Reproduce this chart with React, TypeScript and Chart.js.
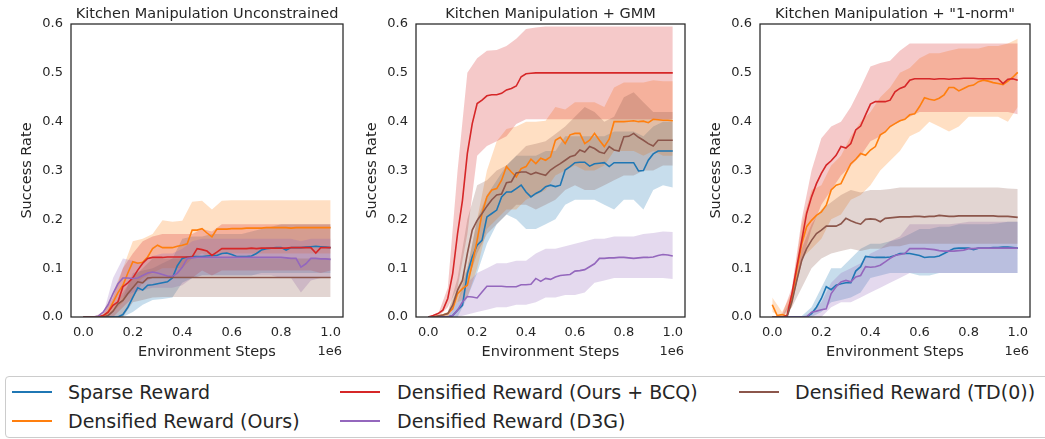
import React, { useEffect, useRef } from "react";
import { Chart, registerables } from "chart.js";

Chart.register(...registerables);

const MEAN_STEPS = [0, 0.02, 0.04, 0.06, 0.08, 0.1, 0.12, 0.14, 0.16, 0.18, 0.2, 0.22, 0.24, 0.26, 0.28, 0.3, 0.32, 0.34, 0.36, 0.38, 0.4, 0.42, 0.44, 0.46, 0.48, 0.5, 0.52, 0.54, 0.56, 0.58, 0.6, 0.62, 0.64, 0.66, 0.68, 0.7, 0.72, 0.74, 0.76, 0.78, 0.8, 0.82, 0.84, 0.86, 0.88, 0.9, 0.92, 0.94, 0.96, 0.98, 1.0];
const BAND_STEPS = [0, 0.04, 0.08, 0.12, 0.16, 0.2, 0.24, 0.28, 0.32, 0.36, 0.4, 0.44, 0.48, 0.52, 0.56, 0.6, 0.64, 0.68, 0.72, 0.76, 0.8, 0.84, 0.88, 0.92, 0.96, 1.0];
const X_TICKS = [0, 0.2, 0.4, 0.6, 0.8, 1.0];
const Y_TICKS = [0, 0.1, 0.2, 0.3, 0.4, 0.5, 0.6];

const SERIES_NAMES = ["Sparse Reward", "Densified Reward (Ours)", "Densified Reward (Ours + BCQ)", "Densified Reward (D3G)", "Densified Reward (TD(0))"];
const SERIES_COLORS = ["#1f77b4", "#ff7f0e", "#d62728", "#9467bd", "#8c564b"];
const PANEL_TITLES = ["Kitchen Manipulation Unconstrained", "Kitchen Manipulation + GMM", "Kitchen Manipulation + \"1-norm\""];

// ---------- Panel 1: Unconstrained ----------
const u_sparse = [0,0,0,0,0,0,0,0,0.005,0.02, 0.04,0.06,0.055,0.065,0.066,0.068,0.07,0.072,0.08,0.105, 0.12,0.123,0.124,0.124,0.124,0.125,0.126,0.126,0.13,0.131, 0.128,0.124,0.124,0.124,0.125,0.13,0.137,0.14,0.141,0.142, 0.142,0.137,0.142,0.142,0.142,0.143,0.144,0.145,0.144,0.143, 0.142];
const u_ours = [0,0,0,0,0.002,0.01,0.03,0.05,0.065,0.09, 0.113,0.11,0.112,0.123,0.14,0.147,0.142,0.142,0.142,0.145, 0.147,0.15,0.178,0.178,0.181,0.172,0.164,0.18,0.18,0.18, 0.181,0.181,0.181,0.182,0.182,0.182,0.182,0.183,0.183,0.183, 0.183,0.183,0.182,0.183,0.183,0.183,0.183,0.183,0.183,0.183, 0.183];
const u_bcq = [0,0,0,0,0.003,0.01,0.024,0.031,0.062,0.07, 0.08,0.096,0.11,0.12,0.122,0.122,0.122,0.123,0.123,0.123, 0.123,0.123,0.123,0.14,0.138,0.135,0.126,0.133,0.14,0.14, 0.14,0.14,0.14,0.14,0.141,0.14,0.141,0.141,0.141,0.141, 0.141,0.141,0.142,0.142,0.142,0.142,0.142,0.131,0.142,0.142, 0.142];
const u_d3g = [0,0,0,0.002,0.01,0.025,0.048,0.068,0.08,0.08, 0.079,0.08,0.085,0.09,0.092,0.09,0.087,0.084,0.083,0.09, 0.102,0.12,0.121,0.122,0.122,0.122,0.122,0.122,0.122,0.122, 0.122,0.122,0.122,0.122,0.122,0.122,0.122,0.122,0.122,0.122, 0.122,0.121,0.12,0.12,0.102,0.109,0.12,0.12,0.119,0.119, 0.118];
const u_td0 = [0,0,0,0,0,0.003,0.012,0.027,0.034,0.048, 0.06,0.072,0.07,0.08,0.081,0.081,0.081,0.081,0.081,0.081, 0.081,0.081,0.081,0.081,0.081,0.081,0.081,0.081,0.081,0.081, 0.081,0.081,0.081,0.081,0.081,0.081,0.081,0.081,0.081,0.081, 0.081,0.081,0.081,0.081,0.081,0.081,0.081,0.081,0.081,0.081, 0.081];

const u_sparse_hi = [0,0,0.005,0.01,0.04,0.09,0.095,0.1,0.11,0.12,0.16,0.165,0.165,0.17,0.17,0.17,0.17,0.175,0.18,0.185,0.19,0.19,0.19,0.19,0.19,0.19];
const u_sparse_lo = [0,0,0,0,0,0.01,0.025,0.035,0.037,0.04,0.07,0.08,0.085,0.085,0.085,0.085,0.085,0.085,0.09,0.09,0.09,0.09,0.09,0.09,0.09,0.09];
const u_ours_hi = [0,0,0.01,0.05,0.1,0.155,0.16,0.17,0.198,0.195,0.197,0.236,0.238,0.22,0.238,0.239,0.239,0.239,0.239,0.239,0.239,0.239,0.239,0.239,0.239,0.239];
const u_ours_lo = [0,0,0,0.01,0.03,0.06,0.08,0.09,0.1,0.1,0.1,0.12,0.13,0.12,0.13,0.13,0.13,0.13,0.13,0.13,0.13,0.13,0.13,0.13,0.13,0.13];
const u_bcq_hi = [0,0,0.005,0.04,0.1,0.13,0.155,0.165,0.17,0.17,0.17,0.17,0.18,0.175,0.19,0.19,0.19,0.19,0.19,0.19,0.19,0.19,0.19,0.19,0.19,0.19];
const u_bcq_lo = [0,0,0,0,0.02,0.04,0.07,0.08,0.08,0.08,0.08,0.08,0.095,0.085,0.095,0.095,0.095,0.095,0.095,0.095,0.095,0.095,0.095,0.095,0.09,0.095];
const u_d3g_hi = [0,0,0.005,0.08,0.12,0.115,0.11,0.125,0.13,0.13,0.14,0.155,0.16,0.16,0.16,0.16,0.16,0.16,0.16,0.16,0.16,0.16,0.155,0.16,0.16,0.16];
const u_d3g_lo = [0,0,0,0.02,0.04,0.05,0.055,0.06,0.06,0.06,0.065,0.08,0.085,0.085,0.085,0.085,0.085,0.085,0.085,0.085,0.08,0.08,0.05,0.075,0.08,0.08];
const u_td0_hi = [0,0,0.003,0.02,0.05,0.08,0.1,0.12,0.12,0.12,0.12,0.12,0.12,0.12,0.12,0.12,0.12,0.12,0.12,0.12,0.12,0.12,0.12,0.12,0.12,0.12];
const u_td0_lo = [0,0,0,0,0,0.03,0.035,0.04,0.041,0.041,0.041,0.041,0.041,0.041,0.041,0.041,0.041,0.041,0.041,0.041,0.041,0.041,0.041,0.041,0.041,0.041];

// ---------- Panel 2: GMM ----------
const g_sparse = [0,0,0,0,0,0.003,0.014,0.024,0.089,0.123, 0.147,0.157,0.205,0.212,0.219,0.246,0.256,0.256,0.263,0.27, 0.256,0.246,0.253,0.258,0.267,0.27,0.267,0.27,0.301,0.308, 0.316,0.317,0.317,0.309,0.314,0.315,0.316,0.308,0.316,0.316, 0.316,0.316,0.316,0.299,0.3,0.321,0.334,0.34,0.34,0.34, 0.34];
const g_ours = [0,0,0.002,0.004,0.007,0.017,0.048,0.058,0.065,0.109, 0.157,0.212,0.246,0.26,0.263,0.28,0.308,0.297,0.287,0.304, 0.308,0.323,0.314,0.325,0.321,0.328,0.362,0.368,0.355,0.373, 0.376,0.376,0.355,0.362,0.376,0.362,0.349,0.364,0.4,0.4, 0.4,0.401,0.402,0.4,0.401,0.398,0.405,0.404,0.403,0.403, 0.402];
const g_bcq = [0,0.003,0.007,0.014,0.038,0.089,0.171,0.239,0.335,0.396, 0.437,0.444,0.453,0.455,0.455,0.458,0.465,0.468,0.473,0.492, 0.498,0.499,0.5,0.5,0.5,0.5,0.5,0.5,0.5,0.5, 0.5,0.5,0.5,0.5,0.5,0.5,0.5,0.5,0.5,0.5, 0.5,0.5,0.5,0.5,0.5,0.5,0.5,0.5,0.5,0.5, 0.5];
const g_d3g = [0,0,0,0,0,0.003,0.014,0.031,0.042,0.041, 0.039,0.051,0.063,0.063,0.063,0.063,0.062,0.062,0.062,0.066, 0.066,0.067,0.079,0.073,0.079,0.077,0.082,0.085,0.086,0.087, 0.094,0.095,0.097,0.103,0.109,0.12,0.12,0.121,0.121,0.122, 0.122,0.121,0.12,0.121,0.122,0.122,0.123,0.126,0.128,0.127, 0.125];
const g_td0 = [0,0,0.002,0.004,0.007,0.024,0.055,0.075,0.13,0.178, 0.198,0.212,0.227,0.24,0.25,0.252,0.275,0.277,0.295,0.297, 0.297,0.292,0.296,0.293,0.29,0.301,0.308,0.314,0.321,0.328, 0.331,0.342,0.338,0.349,0.345,0.338,0.335,0.349,0.342,0.34, 0.369,0.37,0.376,0.368,0.362,0.355,0.35,0.362,0.362,0.362, 0.362];

const g_sparse_hi = [0,0,0,0.03,0.1,0.2,0.25,0.28,0.31,0.33,0.33,0.33,0.34,0.34,0.37,0.37,0.37,0.37,0.37,0.38,0.38,0.38,0.37,0.39,0.4,0.4];
const g_sparse_lo = [0,0,0,0,0.04,0.09,0.15,0.19,0.21,0.2,0.18,0.18,0.19,0.2,0.23,0.24,0.24,0.24,0.23,0.22,0.24,0.24,0.22,0.26,0.27,0.265];
const g_ours_hi = [0,0.002,0.01,0.06,0.1,0.2,0.3,0.36,0.385,0.39,0.4,0.4,0.402,0.43,0.425,0.44,0.44,0.44,0.43,0.47,0.48,0.48,0.48,0.485,0.483,0.483];
const g_ours_lo = [0,0,0,0.03,0.04,0.1,0.18,0.2,0.22,0.22,0.24,0.25,0.26,0.29,0.3,0.31,0.3,0.3,0.31,0.34,0.34,0.34,0.33,0.34,0.33,0.33];
const g_bcq_hi = [0,0.005,0.06,0.3,0.5,0.53,0.545,0.547,0.555,0.57,0.59,0.593,0.595,0.595,0.595,0.595,0.595,0.595,0.595,0.595,0.595,0.595,0.595,0.595,0.595,0.595];
const g_bcq_lo = [0,0,0.02,0.06,0.17,0.33,0.35,0.36,0.37,0.395,0.405,0.405,0.405,0.405,0.405,0.405,0.405,0.405,0.405,0.405,0.405,0.405,0.405,0.405,0.405,0.405];
const g_d3g_hi = [0,0,0,0.03,0.07,0.09,0.1,0.11,0.11,0.115,0.115,0.13,0.14,0.14,0.145,0.15,0.155,0.16,0.16,0.165,0.165,0.165,0.17,0.172,0.175,0.174];
const g_d3g_lo = [0,0,0,0,0.005,0.01,0.015,0.02,0.02,0.025,0.025,0.03,0.04,0.04,0.045,0.045,0.05,0.07,0.075,0.08,0.08,0.08,0.08,0.08,0.08,0.078];
const g_td0_hi = [0,0.002,0.01,0.08,0.2,0.27,0.28,0.3,0.31,0.33,0.35,0.355,0.36,0.375,0.39,0.41,0.43,0.42,0.4,0.41,0.45,0.46,0.44,0.42,0.42,0.42];
const g_td0_lo = [0,0,0,0.03,0.07,0.13,0.17,0.19,0.21,0.23,0.23,0.22,0.23,0.24,0.26,0.27,0.26,0.26,0.27,0.28,0.29,0.29,0.3,0.3,0.31,0.31];

// ---------- Panel 3: "1-norm" ----------
const n_sparse = [0,0,0,0,0,0,0,0,0.007,0.02, 0.038,0.062,0.056,0.065,0.068,0.07,0.07,0.094,0.103,0.124, 0.123,0.122,0.122,0.122,0.123,0.126,0.13,0.13,0.13,0.128, 0.126,0.122,0.123,0.123,0.125,0.13,0.135,0.14,0.141,0.141, 0.141,0.138,0.141,0.141,0.141,0.142,0.142,0.143,0.143,0.142, 0.141];
const n_ours = [0.025,0.003,0.005,0.002,0.038,0.096,0.15,0.185,0.198,0.208, 0.215,0.229,0.26,0.27,0.273,0.294,0.314,0.323,0.335,0.331, 0.342,0.349,0.373,0.379,0.39,0.396,0.402,0.405,0.414,0.416, 0.431,0.449,0.446,0.444,0.448,0.455,0.47,0.47,0.463,0.468, 0.473,0.475,0.482,0.485,0.483,0.48,0.478,0.476,0.483,0.491, 0.501];
const n_bcq = [0,0,0,0.003,0.048,0.103,0.157,0.212,0.246,0.273, 0.294,0.311,0.32,0.331,0.349,0.346,0.355,0.383,0.391,0.414, 0.436,0.441,0.441,0.441,0.444,0.461,0.468,0.472,0.485,0.488, 0.488,0.488,0.488,0.487,0.488,0.488,0.487,0.488,0.488,0.489, 0.489,0.489,0.488,0.488,0.488,0.488,0.488,0.478,0.487,0.488, 0.485];
const n_d3g = [0,0,0,0,0,0,0,0,0.01,0.012, 0.015,0.017,0.048,0.062,0.072,0.075,0.072,0.082,0.085,0.103, 0.102,0.103,0.106,0.113,0.12,0.126,0.128,0.13,0.14,0.14, 0.14,0.14,0.139,0.138,0.136,0.135,0.135,0.135,0.136,0.137, 0.14,0.14,0.141,0.141,0.141,0.141,0.141,0.141,0.141,0.141, 0.141];
const n_td0 = [0,0,0,0,0.031,0.075,0.116,0.14,0.157,0.171, 0.178,0.186,0.186,0.186,0.191,0.202,0.197,0.193,0.19,0.2, 0.201,0.2,0.195,0.202,0.203,0.204,0.205,0.205,0.205,0.206, 0.206,0.205,0.206,0.206,0.208,0.207,0.206,0.206,0.207,0.207, 0.207,0.207,0.207,0.207,0.207,0.207,0.206,0.206,0.206,0.205, 0.204];

const n_sparse_hi = [0,0,0,0.002,0.02,0.06,0.1,0.1,0.12,0.14,0.15,0.15,0.155,0.16,0.17,0.18,0.18,0.185,0.185,0.19,0.19,0.19,0.19,0.192,0.195,0.195];
const n_sparse_lo = [0,0,0,0,0,0.01,0.03,0.035,0.04,0.05,0.08,0.085,0.09,0.09,0.09,0.085,0.085,0.09,0.09,0.09,0.09,0.09,0.09,0.09,0.09,0.09];
const n_ours_hi = [0.04,0.01,0.05,0.19,0.26,0.27,0.31,0.33,0.37,0.4,0.42,0.45,0.47,0.5,0.51,0.53,0.54,0.54,0.545,0.55,0.55,0.55,0.555,0.555,0.56,0.57];
const n_ours_lo = [0.01,0,0.02,0.12,0.14,0.16,0.2,0.21,0.24,0.25,0.27,0.3,0.32,0.34,0.37,0.38,0.4,0.39,0.38,0.39,0.41,0.41,0.41,0.41,0.4,0.43];
const n_bcq_hi = [0,0.005,0.06,0.2,0.3,0.366,0.39,0.4,0.43,0.47,0.513,0.52,0.525,0.545,0.56,0.56,0.56,0.56,0.56,0.56,0.56,0.56,0.56,0.56,0.56,0.56];
const n_bcq_lo = [0,0,0.03,0.11,0.18,0.23,0.26,0.29,0.31,0.33,0.36,0.37,0.39,0.4,0.41,0.42,0.42,0.42,0.42,0.42,0.42,0.42,0.42,0.42,0.42,0.415];
const n_d3g_hi = [0,0,0,0,0.01,0.03,0.07,0.09,0.1,0.11,0.13,0.14,0.155,0.165,0.19,0.19,0.19,0.19,0.19,0.192,0.195,0.195,0.195,0.195,0.195,0.195];
const n_d3g_lo = [0,0,0,0,0,0,0.02,0.03,0.03,0.04,0.05,0.06,0.07,0.08,0.09,0.09,0.09,0.09,0.09,0.09,0.09,0.09,0.09,0.09,0.09,0.09];
const n_td0_hi = [0,0,0.04,0.14,0.19,0.22,0.235,0.25,0.26,0.255,0.26,0.26,0.262,0.265,0.265,0.265,0.265,0.265,0.265,0.265,0.265,0.265,0.265,0.265,0.263,0.262];
const n_td0_lo = [0,0,0.02,0.06,0.1,0.12,0.13,0.135,0.14,0.135,0.14,0.14,0.145,0.145,0.15,0.15,0.15,0.15,0.15,0.15,0.15,0.15,0.15,0.15,0.15,0.15];

const PANELS = [
  { title: PANEL_TITLES[0], means: [u_sparse, u_ours, u_bcq, u_d3g, u_td0], his: [u_sparse_hi, u_ours_hi, u_bcq_hi, u_d3g_hi, u_td0_hi], los: [u_sparse_lo, u_ours_lo, u_bcq_lo, u_d3g_lo, u_td0_lo], plotLeft: 71, plotRight: 343 },
  { title: PANEL_TITLES[1], means: [g_sparse, g_ours, g_bcq, g_d3g, g_td0], his: [g_sparse_hi, g_ours_hi, g_bcq_hi, g_d3g_hi, g_td0_hi], los: [g_sparse_lo, g_ours_lo, g_bcq_lo, g_d3g_lo, g_td0_lo], plotLeft: 416, plotRight: 685 },
  { title: PANEL_TITLES[2], means: [n_sparse, n_ours, n_bcq, n_d3g, n_td0], his: [n_sparse_hi, n_ours_hi, n_bcq_hi, n_d3g_hi, n_td0_hi], los: [n_sparse_lo, n_ours_lo, n_bcq_lo, n_d3g_lo, n_td0_lo], plotLeft: 760, plotRight: 1030 },
];

const TEXT = "#262626";
const FONT = '"DejaVu Sans", sans-serif';
const Y_AXIS_W = 71;
const CANVAS_H = 370;
const RIGHT_PAD = 14;

function rgba(hex: string, a: number) {
  const n = parseInt(hex.slice(1), 16);
  return `rgba(${(n >> 16) & 255},${(n >> 8) & 255},${n & 255},${a})`;
}

const framePlugin = {
  id: "frameAndTitle",
  afterDraw(chart: any, _args: any, opts: any) {
    const { ctx, chartArea } = chart;
    const { left, top, right, bottom } = chartArea;
    ctx.save();
    ctx.strokeStyle = TEXT;
    ctx.lineWidth = 1.25;
    ctx.strokeRect(left, top, right - left, bottom - top);
    ctx.fillStyle = TEXT;
    ctx.font = `14.5px ${FONT}`;
    ctx.textAlign = "center";
    ctx.textBaseline = "alphabetic";
    ctx.fillText(opts.title, (left + right) / 2, 18.3);
    ctx.font = `13px ${FONT}`;
    ctx.textAlign = "right";
    ctx.fillText("1e6", right - 1, 355);
    ctx.restore();
  },
};

function Panel({ panel }: { panel: any }) {
  const ref = useRef<HTMLCanvasElement>(null);
  const canvasLeft = panel.plotLeft - Y_AXIS_W;
  const canvasW = panel.plotRight - canvasLeft + RIGHT_PAD;

  useEffect(() => {
    if (!ref.current) return;
    const lines: any[] = [];
    const bands: any[] = [];
    for (let s = SERIES_COLORS.length - 1; s >= 0; s--) {
      lines.push({
        label: SERIES_NAMES[s],
        data: MEAN_STEPS.map((x, i) => ({ x, y: panel.means[s][i] })),
        borderColor: SERIES_COLORS[s],
        backgroundColor: SERIES_COLORS[s],
        borderWidth: 1.6,
        pointRadius: 0,
        fill: false,
        tension: 0,
      });
      bands.push({
        label: SERIES_NAMES[s] + " hi",
        data: BAND_STEPS.map((x, i) => ({ x, y: panel.his[s][i] })),
        borderColor: "transparent",
        borderWidth: 0,
        pointRadius: 0,
        backgroundColor: rgba(SERIES_COLORS[s], 0.25),
        fill: "+1",
        tension: 0,
      });
      bands.push({
        label: SERIES_NAMES[s] + " lo",
        data: BAND_STEPS.map((x, i) => ({ x, y: panel.los[s][i] })),
        borderColor: "transparent",
        borderWidth: 0,
        pointRadius: 0,
        backgroundColor: "transparent",
        fill: false,
        tension: 0,
      });
    }
    const chart = new Chart(ref.current, {
      type: "line",
      data: { datasets: [...lines, ...bands] },
      plugins: [framePlugin],
      options: {
        responsive: false,
        animation: false,
        devicePixelRatio: 1,
        layout: { padding: { left: 0, right: RIGHT_PAD, top: 24, bottom: 0 } },
        plugins: {
          legend: { display: false },
          tooltip: { enabled: false },
          title: { display: false },
          frameAndTitle: { title: panel.title },
        } as any,
        scales: {
          x: {
            type: "linear",
            min: -0.05,
            max: 1.05,
            grid: { display: false, drawTicks: false },
            border: { display: false },
            afterBuildTicks: (s: any) => { s.ticks = X_TICKS.map((v) => ({ value: v })); },
            afterFit: (s: any) => { s.height = CANVAS_H - 317; },
            ticks: {
              padding: 8,
              autoSkip: false,
              maxRotation: 0,
              color: TEXT,
              font: { size: 13, family: FONT },
              callback: (v: any) => Number(v).toFixed(1),
            },
            title: {
              display: true,
              text: "Environment Steps",
              color: TEXT,
              font: { size: 14.5, family: FONT },
              padding: { top: 0, bottom: 9.3 },
            },
          },
          y: {
            type: "linear",
            min: 0,
            max: 0.6,
            grid: { display: false, drawTicks: false },
            border: { display: false },
            afterBuildTicks: (s: any) => { s.ticks = Y_TICKS.map((v) => ({ value: v })); },
            afterFit: (s: any) => { s.width = Y_AXIS_W; },
            ticks: {
              padding: 8,
              color: TEXT,
              font: { size: 13, family: FONT },
              callback: (v: any) => Number(v).toFixed(1),
            },
            title: {
              display: true,
              text: "Success Rate",
              color: TEXT,
              font: { size: 14.5, family: FONT },
              padding: { top: 18.8, bottom: 0 },
            },
          },
        },
      } as any,
    });
    return () => chart.destroy();
  }, []);

  return (
    <canvas
      ref={ref}
      width={canvasW}
      height={CANVAS_H}
      style={{ position: "absolute", left: canvasLeft, top: 0, width: canvasW, height: CANVAS_H }}
    />
  );
}

const LEGEND_LAYOUT = [
  { s: 0, lineX: 12, textX: 68, y: 392 },
  { s: 1, lineX: 12, textX: 68, y: 421 },
  { s: 2, lineX: 340, textX: 397, y: 392 },
  { s: 3, lineX: 340, textX: 397, y: 421 },
  { s: 4, lineX: 739, textX: 795, y: 392 },
];

export default function App() {
  return (
    <div style={{ position: "fixed", left: 0, top: 0, width: 1045, height: 439, overflow: "hidden", background: "#ffffff" }}>
      {PANELS.map((p, i) => (
        <Panel key={i} panel={p} />
      ))}
      <div
        style={{
          position: "absolute",
          left: 5,
          top: 376,
          width: 1060,
          height: 62,
          border: "1px solid #cccccc",
          borderRadius: 4,
          boxSizing: "border-box",
          background: "#ffffff",
        }}
      />
      {LEGEND_LAYOUT.map((it) => (
        <React.Fragment key={it.s}>
          <div
            style={{
              position: "absolute",
              left: it.lineX,
              top: it.y - 1.25,
              width: 40,
              height: 2.5,
              background: SERIES_COLORS[it.s],
            }}
          />
          <div
            style={{
              position: "absolute",
              left: it.textX,
              top: it.y - 12,
              height: 24,
              lineHeight: "24px",
              fontFamily: FONT,
              fontSize: 19,
              color: TEXT,
              whiteSpace: "nowrap",
            }}
          >
            {SERIES_NAMES[it.s]}
          </div>
        </React.Fragment>
      ))}
    </div>
  );
}
